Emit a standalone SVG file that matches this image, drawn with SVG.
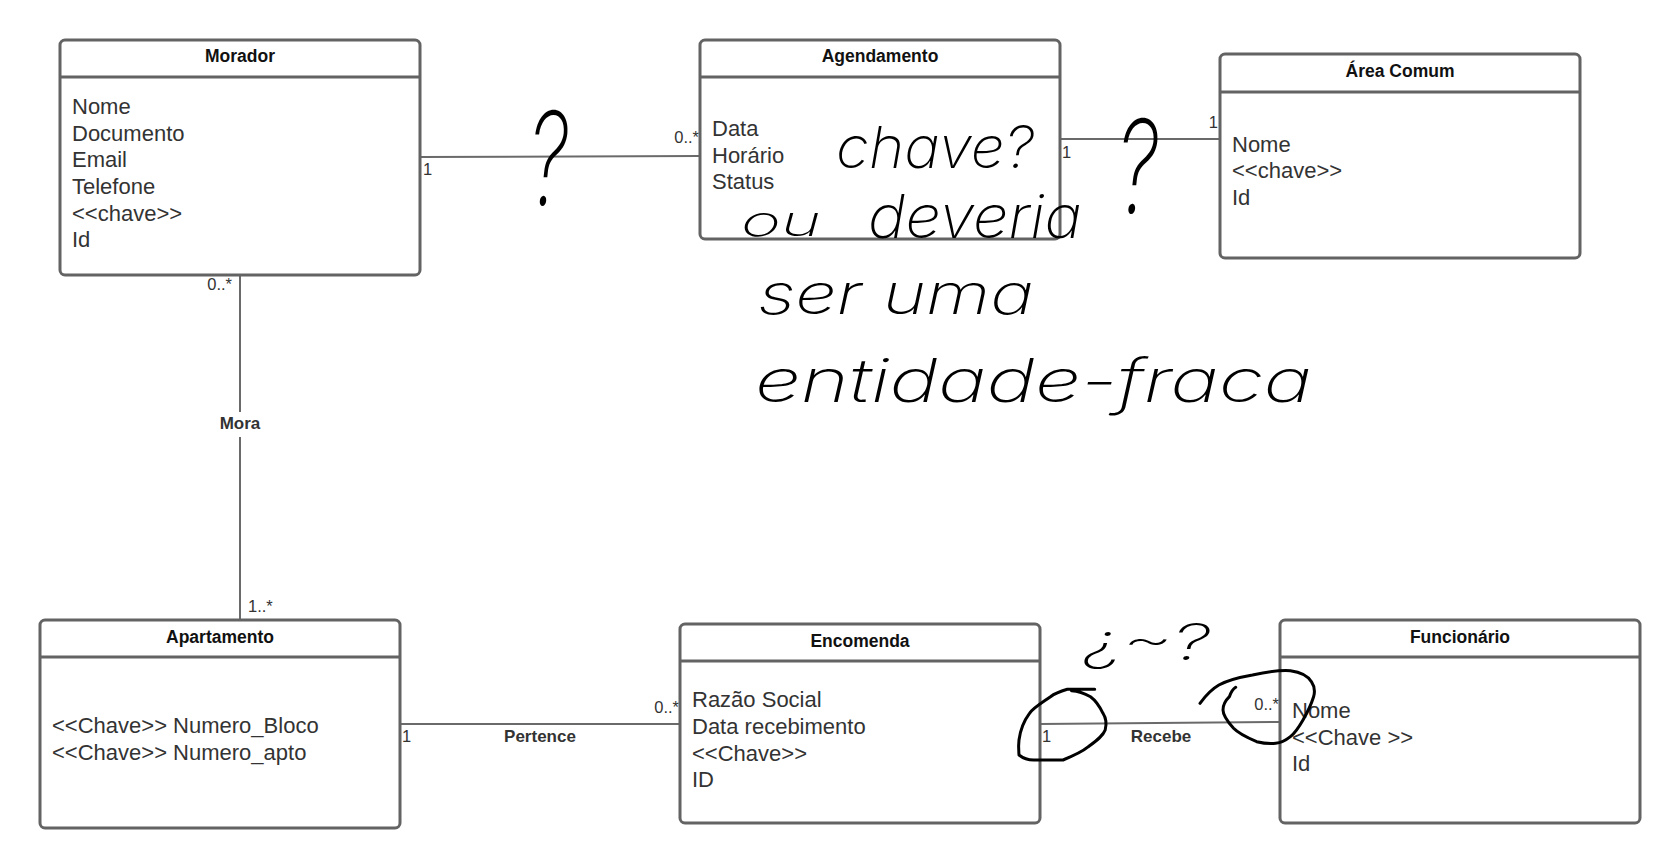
<svg xmlns="http://www.w3.org/2000/svg" width="1680" height="868" viewBox="0 0 1680 868">
<style>
.box{fill:#fff;stroke:#636363;stroke-width:3}
.sep{stroke:#636363;stroke-width:3}
.title{font-family:"Liberation Sans",Arial,sans-serif;font-weight:bold;font-size:17.5px;fill:#111;text-anchor:middle}
.attr{font-family:"Liberation Sans",Arial,sans-serif;font-size:22px;fill:#333}
.conn{stroke:#6a6a6a;stroke-width:2;fill:none}
.mult{font-family:"Liberation Sans",Arial,sans-serif;font-size:16.5px;fill:#333}
.lbl{font-family:"Liberation Sans",Arial,sans-serif;font-weight:bold;font-size:17px;fill:#333;text-anchor:middle}
.hand{font-family:Inter,"DejaVu Sans",sans-serif;font-weight:200;fill:#000;font-style:italic}
.ink{fill:none;stroke:#000;stroke-width:3;stroke-linecap:round;stroke-linejoin:round}
</style>
<rect width="1680" height="868" fill="#fff"/>

<g id="connectors">
  <line class="conn" x1="420" y1="157" x2="700" y2="156"/>
  <text class="mult" x="423" y="175">1</text>
  <text class="mult" x="699" y="143" text-anchor="end">0..*</text>

  <line class="conn" x1="1060" y1="139" x2="1220" y2="139"/>
  <text class="mult" x="1062" y="158">1</text>
  <text class="mult" x="1218" y="128" text-anchor="end">1</text>

  <line class="conn" x1="240" y1="275" x2="240" y2="412"/>
  <line class="conn" x1="240" y1="437" x2="240" y2="620"/>
  <text class="lbl" x="240" y="429">Mora</text>
  <text class="mult" x="232" y="290" text-anchor="end">0..*</text>
  <text class="mult" x="248" y="612">1..*</text>

  <line class="conn" x1="400" y1="724" x2="680" y2="724"/>
  <text class="mult" x="402" y="742">1</text>
  <text class="mult" x="679" y="713" text-anchor="end">0..*</text>
  <text class="lbl" x="540" y="742">Pertence</text>

  <line class="conn" x1="1040" y1="724" x2="1280" y2="722"/>
  <text class="mult" x="1042" y="742">1</text>
  <text class="mult" x="1279" y="710" text-anchor="end">0..*</text>
  <text class="lbl" x="1161" y="742">Recebe</text>
</g>

<g id="morador">
  <rect class="box" x="60" y="40" width="360" height="235" rx="5"/>
  <line class="sep" x1="60" y1="77" x2="420" y2="77"/>
  <text class="title" x="240" y="62">Morador</text>
  <text class="attr" x="72" y="114">Nome</text>
  <text class="attr" x="72" y="140.7">Documento</text>
  <text class="attr" x="72" y="167.3">Email</text>
  <text class="attr" x="72" y="194">Telefone</text>
  <text class="attr" x="72" y="220.7">&lt;&lt;chave&gt;&gt;</text>
  <text class="attr" x="72" y="247.3">Id</text>
</g>

<g id="agendamento">
  <rect class="box" x="700" y="40" width="360" height="199" rx="5"/>
  <line class="sep" x1="700" y1="77" x2="1060" y2="77"/>
  <text class="title" x="880" y="62">Agendamento</text>
  <text class="attr" x="712" y="136">Data</text>
  <text class="attr" x="712" y="162.5">Horário</text>
  <text class="attr" x="712" y="189">Status</text>
</g>

<g id="area-comum">
  <rect class="box" x="1220" y="54" width="360" height="204" rx="5"/>
  <line class="sep" x1="1220" y1="92" x2="1580" y2="92"/>
  <text class="title" x="1400" y="76.5">Área Comum</text>
  <text class="attr" x="1232" y="151.7">Nome</text>
  <text class="attr" x="1232" y="178.4">&lt;&lt;chave&gt;&gt;</text>
  <text class="attr" x="1232" y="205">Id</text>
</g>

<g id="apartamento">
  <rect class="box" x="40" y="620" width="360" height="208" rx="5"/>
  <line class="sep" x1="40" y1="657" x2="400" y2="657"/>
  <text class="title" x="220" y="642.7">Apartamento</text>
  <text class="attr" x="52" y="733.3">&lt;&lt;Chave&gt;&gt; Numero_Bloco</text>
  <text class="attr" x="52" y="760">&lt;&lt;Chave&gt;&gt; Numero_apto</text>
</g>

<g id="encomenda">
  <rect class="box" x="680" y="624" width="360" height="199" rx="5"/>
  <line class="sep" x1="680" y1="661" x2="1040" y2="661"/>
  <text class="title" x="860" y="646.7">Encomenda</text>
  <text class="attr" x="692" y="707.3">Razão Social</text>
  <text class="attr" x="692" y="734">Data recebimento</text>
  <text class="attr" x="692" y="760.7">&lt;&lt;Chave&gt;&gt;</text>
  <text class="attr" x="692" y="787.3">ID</text>
</g>

<g id="funcionario">
  <rect class="box" x="1280" y="620" width="360" height="203" rx="5"/>
  <line class="sep" x1="1280" y1="657" x2="1640" y2="657"/>
  <text class="title" x="1460" y="642.7">Funcionário</text>
  <text class="attr" x="1292" y="718">Nome</text>
  <text class="attr" x="1292" y="744.7">&lt;&lt;Chave &gt;&gt;</text>
  <text class="attr" x="1292" y="771.3">Id</text>
</g>

<g id="annotations">
  <text class="hand" x="528" y="205" font-size="130" textLength="40" lengthAdjust="spacingAndGlyphs">?</text>
  <text class="hand" x="1116" y="213" font-size="130" textLength="42" lengthAdjust="spacingAndGlyphs">?</text>
  <text class="hand" x="836" y="168" font-size="58" textLength="198" lengthAdjust="spacingAndGlyphs">chave?</text>
  <text class="hand" x="741" y="236" font-size="42" textLength="80" lengthAdjust="spacingAndGlyphs">ou</text>
  <text class="hand" x="868" y="238" font-size="60" textLength="214" lengthAdjust="spacingAndGlyphs">deveria</text>
  <text class="hand" x="758" y="314" font-size="56" textLength="276" lengthAdjust="spacingAndGlyphs">ser uma</text>
  <text class="hand" x="755" y="402" font-size="60" textLength="557" lengthAdjust="spacingAndGlyphs">entidade-fraca</text>
  <text class="hand" x="1084" y="660" font-size="50" textLength="126" lengthAdjust="spacingAndGlyphs">¿~?</text>
  <path class="ink" d="M1094.7,689.3 L1067.3,689.3 C1058,692 1054,694 1050.5,696.7 C1040,704 1033,708 1029.5,713.3 C1023,722 1020,732 1019,740 C1018,748 1019,753 1019,755 C1024,759 1028,760 1033.7,760 L1063,760 C1073,756 1082,752 1088.4,746.7 C1096,741 1103,736 1105.2,730 C1107,723 1106,718 1103,713.3 C1099,705 1095,700 1090.5,696.7 C1084,693 1077,691 1071.5,690.7"/>
  <path class="ink" d="M1200,703.3 C1206,695 1212,689 1218.9,685 C1230,679 1241,677 1252.5,675 C1266,672 1280,670 1290.4,670.7 C1300,672 1308,676 1311.4,681.7 C1315,687 1315,692 1313.6,696.7 C1311,705 1307,713 1303,720 C1299,727 1295,733 1290.4,736.7 C1285,741 1280,743 1275.7,743.3 C1269,744 1262,743 1256.7,741.7 C1248,738 1239,734 1233.6,728.3 C1227,721 1223,715 1223,710 C1223,704 1226,700 1229.4,696.7 C1231,692 1233,689 1235.7,687.3"/>
</g>
</svg>
